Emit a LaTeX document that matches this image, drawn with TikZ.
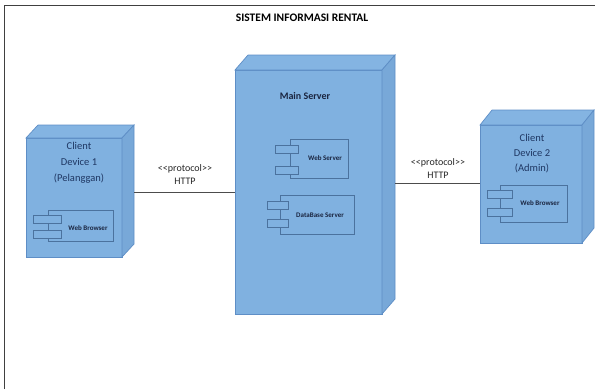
\documentclass[tikz,border=0pt]{standalone}
\usepackage{fontspec}
\setmainfont{Carlito}
\usetikzlibrary{calc}
\definecolor{boxfill}{HTML}{80B1E0}
\definecolor{sidefill}{HTML}{78A8D8}
\definecolor{topfill}{HTML}{84B4E2}
\definecolor{boxedge}{HTML}{5E8EC6}
\definecolor{navy}{HTML}{1F3763}
\definecolor{darktext}{HTML}{1A2540}
\tikzset{
  x=1pt, y=-1pt,
  front/.style={draw=boxedge, fill=boxfill, line width=0.7pt, inner sep=0pt, outer sep=0pt},
  comp/.style={draw=boxedge!80!black, line width=0.5pt, inner sep=0pt, outer sep=0pt},
  tab/.style={draw=boxedge!80!black, fill=boxfill, line width=0.5pt},
  conn/.style={draw=black!70, line width=0.6pt},
  clabel/.style={font=\fontsize{10.5}{16}\selectfont, text=navy, align=center},
  plabel/.style={font=\fontsize{10}{13}\selectfont, text=black!85, align=center},
  ctext/.style={font=\bfseries\fontsize{7}{8}\selectfont, text=darktext},
}
\newcommand{\cubefaces}[3]{% node, dx, dy (dy up, pt)
  \path[draw=boxedge, fill=topfill, line width=0.7pt] (#1.north west) -- ++(#2pt,#3pt) -- ([shift={(#2pt,#3pt)}]#1.north east) -- (#1.north east) -- cycle;
  \path[draw=boxedge, fill=sidefill, line width=0.7pt] (#1.north east) -- ++(#2pt,#3pt) -- ([shift={(#2pt,#3pt)}]#1.south east) -- (#1.south east) -- cycle;
}
\begin{document}
\begin{tikzpicture}
\useasboundingbox (0,0) rectangle (595,389);
% frame
\draw[black!75, line width=0.7pt] (4.5,389) -- (4.5,5.5) -- (595,5.5);
\node[font=\bfseries\fontsize{11.5}{13}\selectfont, text=black] (title) at (302,18) {SISTEM INFORMASI RENTAL};

% main server
\node[front, minimum width=147pt, minimum height=244pt] (main) at (308.5,192) {};
\cubefaces{main}{13}{15}
\node[font=\bfseries\fontsize{10}{12}\selectfont, text=darktext] (mainlbl) at (305,96) {Main Server};

% left client
\node[front, minimum width=96pt, minimum height=119pt] (c1) at (74,197.5) {};
\cubefaces{c1}{12}{13}
\node[clabel] (c1lbl) at (79,163) {Client\\Device 1\\(Pelanggan)};

% right client
\node[front, minimum width=102pt, minimum height=118pt] (c2) at (531,184) {};
\cubefaces{c2}{12}{15}
\node[clabel, font=\fontsize{10.5}{15}\selectfont] (c2lbl) at (532,154) {Client\\Device 2\\(Admin)};

% components
% left web browser
\node[comp, minimum width=65pt, minimum height=31pt] (wb1) at (80.5,225.5) {};
\node[tab, minimum width=28pt, minimum height=8pt, inner sep=0pt] (wb1t1) at (47,219) {};
\node[tab, minimum width=28pt, minimum height=8pt, inner sep=0pt] (wb1t2) at (47,234) {};
\node[ctext] (wb1lbl) at (88,228) {Web Browser};

% web server
\node[comp, minimum width=58pt, minimum height=39pt] (ws) at (319,158.5) {};
\node[tab, minimum width=23pt, minimum height=8pt, inner sep=0pt] (wst1) at (286.5,149.5) {};
\node[tab, minimum width=23pt, minimum height=8pt, inner sep=0pt] (wst2) at (286.5,170) {};
\node[ctext] (wslbl) at (325,158) {Web Server};

% database server
\node[comp, minimum width=74pt, minimum height=39pt] (db) at (317,214.5) {};
\node[tab, minimum width=21pt, minimum height=8pt, inner sep=0pt] (dbt1) at (277.5,205.5) {};
\node[tab, minimum width=21pt, minimum height=8pt, inner sep=0pt] (dbt2) at (277.5,223.5) {};
\node[ctext] (dblbl) at (320,215) {DataBase Server};

% right web browser
\node[comp, minimum width=67pt, minimum height=37pt] (wb2) at (533.5,203.5) {};
\node[tab, minimum width=25pt, minimum height=8pt, inner sep=0pt] (wb2t1) at (499.5,194) {};
\node[tab, minimum width=25pt, minimum height=8pt, inner sep=0pt] (wb2t2) at (499.5,212.5) {};
\node[ctext] (wb2lbl) at (540,203) {Web Browser};

% connectors
\coordinate (l1) at ([xshift=12pt,yshift=5.5pt]c1.east);
\draw[conn] (l1) -- (l1 -| main.west);
\coordinate (r1) at ([xshift=13pt,yshift=9pt]main.east);
\draw[conn] (r1) -- (r1 -| c2.west);

\node[plabel] (p1) at (185,175) {{<}{<}protocol{>}{>}\\HTTP};
\node[plabel] (p2) at (438,169) {{<}{<}protocol{>}{>}\\HTTP};
\end{tikzpicture}
\end{document}
